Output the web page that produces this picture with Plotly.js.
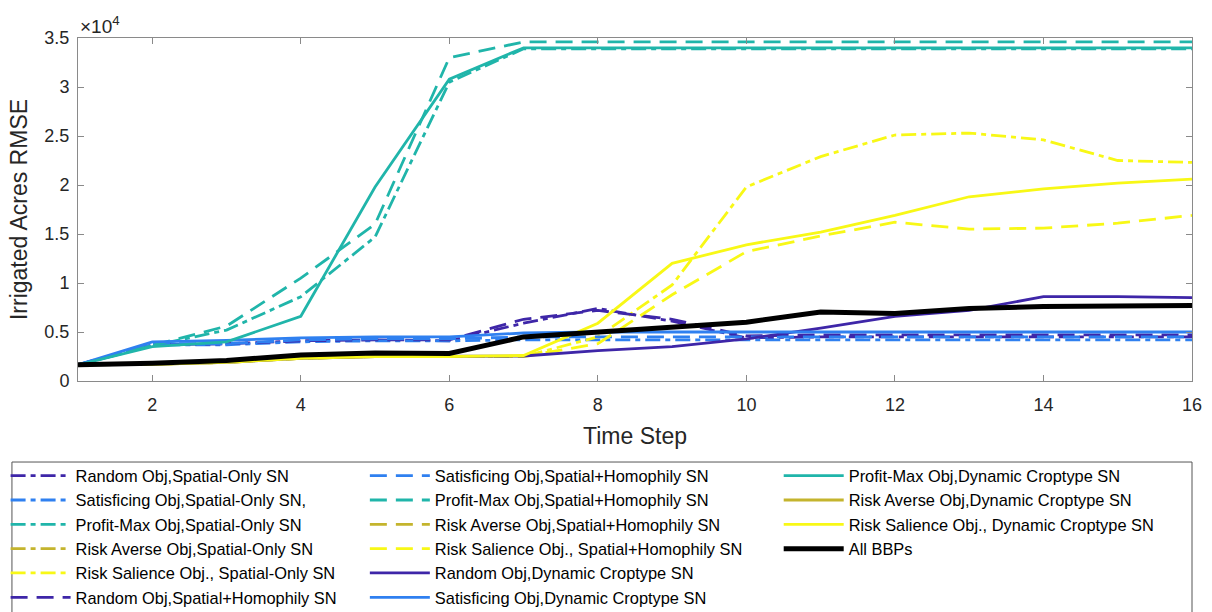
<!DOCTYPE html>
<html>
<head>
<meta charset="utf-8">
<script src="https://cdn.plot.ly/plotly-3.0.1.min.js"></script>
<style>html,body{margin:0;padding:0;background:#fff;}#chart{width:1212px;height:612px;}</style>
</head>
<body>
<div id="chart"></div>
<script>
// Time steps
const timeSteps = [1,2,3,4,5,6,7,8,9,10,11,12,13,14,15,16];

// Spatial-Only SN (dash-dot)
const randomSO    = [1650,3700,3800,4100,4200,4100,5900,7400,6100,4400,4500,4500,4500,4500,4500,4500];
const satisSO     = [1650,3700,3700,4000,4100,4100,4200,4200,4200,4200,4200,4200,4200,4200,4200,4200];
const profitSO    = [1650,3600,5200,8600,14700,30500,33900,33900,33900,33900,33900,33900,33900,33900,33900,33900];
const riskAvSO    = [1650,1800,2100,2650,2850,2800,4500,5000,5500,6000,7050,6900,7400,7600,7650,7700];
const riskSalSO   = [1650,1700,1900,2300,2500,2500,2500,4500,9800,19800,22900,25100,25300,24600,22500,22300];

// Spatial+Homophily SN (dashed)
const randomSH    = [1650,3700,3800,4100,4200,4200,6300,7200,6300,4600,4700,4700,4700,4700,4700,4700];
const satisSH     = [1650,3800,3800,4200,4300,4300,4500,4500,4500,4500,4500,4500,4500,4500,4500,4500];
const profitSH    = [1650,3600,5600,10500,16000,33000,34600,34600,34600,34600,34600,34600,34600,34600,34600,34600];
const riskAvSH    = [1650,1800,2100,2650,2850,2800,4500,5000,5500,6000,7050,6900,7400,7600,7650,7700];
const riskSalSH   = [1650,1700,1900,2300,2500,2500,2500,3800,8800,13200,14800,16200,15500,15600,16100,16900];

// Dynamic Croptype SN (solid)
const randomDyn   = [1650,1700,1900,2300,2500,2500,2550,3100,3500,4300,5400,6600,7200,8600,8600,8500];
const satisDyn    = [1650,4000,4150,4400,4500,4500,4900,5000,5000,5000,5000,5000,5000,5000,5000,5000];
const profitDyn   = [1650,3500,4000,6600,19800,30800,34000,34000,34000,34000,34000,34000,34000,34000,34000,34000];
const riskAvDyn   = [1650,1800,2100,2650,2850,2800,4500,5000,5500,6000,7050,6900,7400,7600,7650,7700];
const riskSalDyn  = [1650,1700,1900,2300,2500,2500,2600,5900,12000,13900,15200,16900,18800,19600,20200,20600];

// All BBPs (thick black)
const allBBPs     = [1650,1800,2100,2650,2850,2800,4500,5000,5500,6000,7050,6900,7400,7600,7650,7700];

// Tick labels
const yTickVals  = [0,5000,10000,15000,20000,25000,30000,35000];
const yTickText  = ['0','0.5','1','1.5','2','2.5','3','3.5'];
const xTickVals  = [2,4,6,8,10,12,14,16];

const C = {
  purple: 'rgb(62,38,168)',
  blue:   'rgb(47,128,240)',
  teal:   'rgb(32,181,170)',
  olive:  'rgb(196,180,45)',
  yellow: 'rgb(248,248,22)',
  black:  'rgb(0,0,0)'
};
const DASHDOT = '15px,5px,5px,5px';
const DASHED  = '17px,9px';
const W = 2.8;

function tr(name, y, color, dash, legend, width) {
  return {
    type: 'scatter', mode: 'lines', x: timeSteps, y: y, name: name,
    line: {color: color, dash: dash, width: width || W},
    legend: legend, hoverinfo: 'skip'
  };
}

const data = [
  tr('Random Obj,Spatial-Only SN', randomSO, C.purple, DASHDOT, 'legend'),
  tr('Satisficing Obj,Spatial-Only SN,', satisSO, C.blue, DASHDOT, 'legend'),
  tr('Profit-Max Obj,Spatial-Only SN', profitSO, C.teal, DASHDOT, 'legend'),
  tr('Risk Averse Obj,Spatial-Only SN', riskAvSO, C.olive, DASHDOT, 'legend'),
  tr('Risk Salience Obj., Spatial-Only SN', riskSalSO, C.yellow, DASHDOT, 'legend'),
  tr('Random Obj,Spatial+Homophily SN', randomSH, C.purple, DASHED, 'legend'),
  tr('Satisficing Obj,Spatial+Homophily SN', satisSH, C.blue, DASHED, 'legend2'),
  tr('Profit-Max Obj,Spatial+Homophily SN', profitSH, C.teal, DASHED, 'legend2'),
  tr('Risk Averse Obj,Spatial+Homophily SN', riskAvSH, C.olive, DASHED, 'legend2'),
  tr('Risk Salience Obj., Spatial+Homophily SN', riskSalSH, C.yellow, DASHED, 'legend2'),
  tr('Random Obj,Dynamic Croptype SN', randomDyn, C.purple, 'solid', 'legend2'),
  tr('Satisficing Obj,Dynamic Croptype SN', satisDyn, C.blue, 'solid', 'legend2'),
  tr('Profit-Max Obj,Dynamic Croptype SN', profitDyn, C.teal, 'solid', 'legend3'),
  tr('Risk Averse Obj,Dynamic Croptype SN', riskAvDyn, C.olive, 'solid', 'legend3'),
  tr('Risk Salience Obj., Dynamic Croptype SN', riskSalDyn, C.yellow, 'solid', 'legend3'),
  tr('All BBPs', allBBPs, C.black, 'solid', 'legend3', 5)
];

const FONT = 'Liberation Sans, Arial, Helvetica, sans-serif';
const AX = '#262626';
const legendBase = {
  orientation: 'v', yanchor: 'top', xanchor: 'left', y: -0.226,
  bgcolor: 'rgba(0,0,0,0)', borderwidth: 0, itemwidth: 60,
  font: {family: FONT, size: 16.4, color: '#000'}, traceorder: 'normal',
  itemclick: false, itemdoubleclick: false
};

const layout = {
  width: 1212, height: 612,
  margin: {l: 78, r: 20, t: 38, b: 231, autoexpand: false},
  paper_bgcolor: '#fff', plot_bgcolor: '#fff',
  font: {family: FONT, color: AX},
  showlegend: true,
  legend:  Object.assign({}, legendBase, {x: -0.065}),
  legend2: Object.assign({}, legendBase, {x: 0.2575}),
  legend3: Object.assign({}, legendBase, {x: 0.629}),
  xaxis: {
    range: [1, 16], tickvals: xTickVals, ticks: 'inside', ticklen: 6,
    tickcolor: '#8a8a8a', linecolor: '#8a8a8a', linewidth: 1, mirror: 'ticks',
    showgrid: false, zeroline: false, tickfont: {size: 18, color: AX, family: FONT},
    ticklabelstandoff: 7,
    title: {text: 'Time Step', font: {size: 23, color: AX, family: FONT}, standoff: 14}
  },
  yaxis: {
    range: [0, 35000], tickvals: yTickVals, ticktext: yTickText, ticks: 'inside', ticklen: 6,
    tickcolor: '#8a8a8a', linecolor: '#8a8a8a', linewidth: 1, mirror: 'ticks',
    showgrid: false, zeroline: false, tickfont: {size: 18, color: AX, family: FONT},
    ticklabelstandoff: 4,
    title: {text: 'Irrigated Acres RMSE', font: {size: 23, color: AX, family: FONT}, standoff: 10}
  },
  annotations: [{
    xref: 'paper', yref: 'paper', x: 0, y: 1, xanchor: 'left', yanchor: 'bottom',
    text: '×10<sup>4</sup>', showarrow: false, font: {size: 19, color: AX, family: FONT}, yshift: -1
  }],
  shapes: [{
    type: 'rect', xref: 'paper', yref: 'paper', x0: -0.0593, x1: 1.0, y0: -0.2362, y1: -0.69,
    line: {color: '#555', width: 1}, fillcolor: 'rgba(0,0,0,0)', layer: 'below'
  }]
};

Plotly.newPlot('chart', data, layout, {staticPlot: true, displayModeBar: false});
</script>
</body>
</html>
